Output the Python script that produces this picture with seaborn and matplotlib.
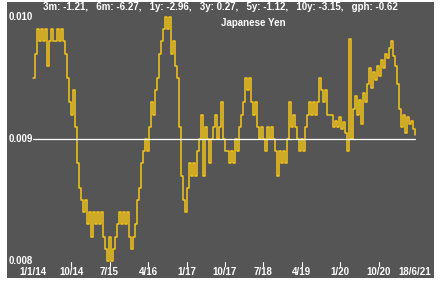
import matplotlib
matplotlib.use("Agg")
import matplotlib.pyplot as plt
import matplotlib.transforms as mtransforms
import seaborn as sns
import pandas as pd

# ---------------- data ----------------
start_date = "2014-01-01"
end_date = "2021-06-18"
jpy_values = [
    0.0095, 0.0097, 0.0099, 0.0098, 0.0099, 0.0098, 0.0099, 0.0096, 0.0098, 0.0099,
    0.0098, 0.0098, 0.0099, 0.0098, 0.0099, 0.0098, 0.0097, 0.0095, 0.0093, 0.0092,
    0.0094, 0.0091, 0.0088, 0.0086, 0.0085, 0.0084, 0.0085, 0.0083, 0.0084, 0.0082,
    0.0084, 0.0083, 0.0084, 0.0083, 0.0084, 0.0082, 0.0081, 0.0080, 0.0082, 0.0080,
    0.0081, 0.0082, 0.0083, 0.0084, 0.0083, 0.0084, 0.0083, 0.0084, 0.0082, 0.0081,
    0.0082, 0.0083, 0.0085, 0.0086, 0.0088, 0.0089, 0.0090, 0.0089, 0.0091, 0.0093,
    0.0092, 0.0094, 0.0095, 0.0097, 0.0098, 0.0099, 0.0100, 0.0099, 0.0100, 0.0097,
    0.0098, 0.0096, 0.0095, 0.0091, 0.0087, 0.0085, 0.0084, 0.0086, 0.0088, 0.0087,
    0.0088, 0.0087, 0.0089, 0.0090, 0.0092, 0.0087, 0.0091, 0.0090, 0.0088, 0.0090,
    0.0091, 0.0092, 0.0090, 0.0091, 0.0093, 0.0090, 0.0089, 0.0089, 0.0088, 0.0089,
    0.0088, 0.0090, 0.0089, 0.0091, 0.0092, 0.0093, 0.0095, 0.0094, 0.0095, 0.0093,
    0.0092, 0.0093, 0.0091, 0.0090, 0.0091, 0.0090, 0.0089, 0.0091, 0.0090, 0.0091,
    0.0090, 0.0089, 0.0087, 0.0089, 0.0088, 0.0089, 0.0088, 0.0090, 0.0093, 0.0091,
    0.0092, 0.0091, 0.0090, 0.0089, 0.0090, 0.0089, 0.0091, 0.0092, 0.0093, 0.0092,
    0.0093, 0.0092, 0.0093, 0.0095, 0.0094, 0.0093, 0.0094, 0.0092, 0.0092, 0.0092,
    0.0091, 0.00915, 0.00910, 0.00918, 0.00908, 0.00914, 0.00905, 0.00890, 0.00982, 0.00900,
    0.00925, 0.00935, 0.00920, 0.00932, 0.00912, 0.00938, 0.00930, 0.00945, 0.00958, 0.00942,
    0.00955, 0.00948, 0.00960, 0.00952, 0.00965, 0.00958, 0.00970, 0.00966, 0.00975, 0.00980,
    0.00968, 0.00960, 0.00945, 0.00925, 0.00910, 0.00920, 0.00905, 0.00918, 0.00912, 0.00915,
    0.00908, 0.00903,
]
ref_level = 0.009
y_ticks = [0.008, 0.009, 0.010]
y_tick_labels = ["0.008", "0.009", "0.010"]
x_tick_dates = ["2014-01-01", "2014-10-01", "2015-07-01", "2016-04-01", "2017-01-01",
                "2017-10-01", "2018-07-01", "2019-04-01", "2020-01-01", "2020-10-01",
                "2021-06-18"]
x_tick_labels = ["1/1/14", "10/14", "7/15", "4/16", "1/17", "10/17", "7/18", "4/19",
                 "1/20", "10/20", "18/6/21"]
x_tick_marked = [False, True, True, True, True, True, True, True, True, True, False]
title = "Japanese Yen"
stats_text = "3m: -1.21,   6m: -6.27,   1y: -2.96,   3y: 0.27,   5y: -1.12,   10y: -3.15,   gph: -0.62"

dates = pd.date_range(start_date, end_date, periods=len(jpy_values))
df = pd.DataFrame({"date": dates, "value": jpy_values})

# ---------------- style ----------------
sns.set_style("dark")
plt.rcParams["font.family"] = ["Liberation Sans", "DejaVu Sans"]

BG = "#555555"
LINE = "#F5C518"
W, H = 445, 282

fig = plt.figure(figsize=(W / 100, H / 100), dpi=100, facecolor="white")
ax = fig.add_axes([7 / W, 4 / H, 427 / W, 276 / H])
ax.set_facecolor(BG)
for s in ax.spines.values():
    s.set_visible(False)

sns.lineplot(data=df, x="date", y="value", ax=ax, color=LINE, linewidth=1.1,
             drawstyle="steps-post", estimator=None, zorder=2)

d0 = pd.Timestamp(start_date)
d1 = pd.Timestamp(end_date)
days_per_px = (d1 - d0).days / 382.0
ax.set_xlim(d0 - pd.Timedelta(days=26 * days_per_px), d1 + pd.Timedelta(days=19 * days_per_px))
ax.set_ylim(0.009 - 139 / 122000, 0.009 + 137 / 122000)

# reference line
ax.plot([d0, d1], [ref_level, ref_level], color="white", linewidth=0.9, zorder=3)

ax.set_xticks([])
ax.set_yticks([])
ax.set_xlabel("")
ax.set_ylabel("")
ax.grid(False)

# y labels inside plot
ytrans = mtransforms.blended_transform_factory(ax.transAxes, ax.transData)
for v, lab in zip(y_ticks, y_tick_labels):
    ax.text(2 / 427, v, lab, transform=ytrans, color="white", fontsize=7,
            fontweight="bold", ha="left", va="center")

# x tick labels and marks
xtrans = ax.get_xaxis_transform()
for d, lab, mk in zip(x_tick_dates, x_tick_labels, x_tick_marked):
    dt = pd.Timestamp(d)
    ax.text(dt, 6 / 276, lab, transform=xtrans, color="white", fontsize=7,
            fontweight="bold", ha="center", va="center")
    if mk:
        ax.plot([dt, dt], [12 / 276, 16 / 276], transform=xtrans, color="white",
                linewidth=0.8, zorder=3)

fig.text(220 / W, 1 - 7 / H, stats_text, color="white", fontsize=7,
         fontweight="bold", ha="center", va="center")
fig.text(253 / W, 1 - 23 / H, title, color="white", fontsize=7,
         fontweight="bold", ha="center", va="center")

fig.savefig("out.png", dpi=100, facecolor="white")
